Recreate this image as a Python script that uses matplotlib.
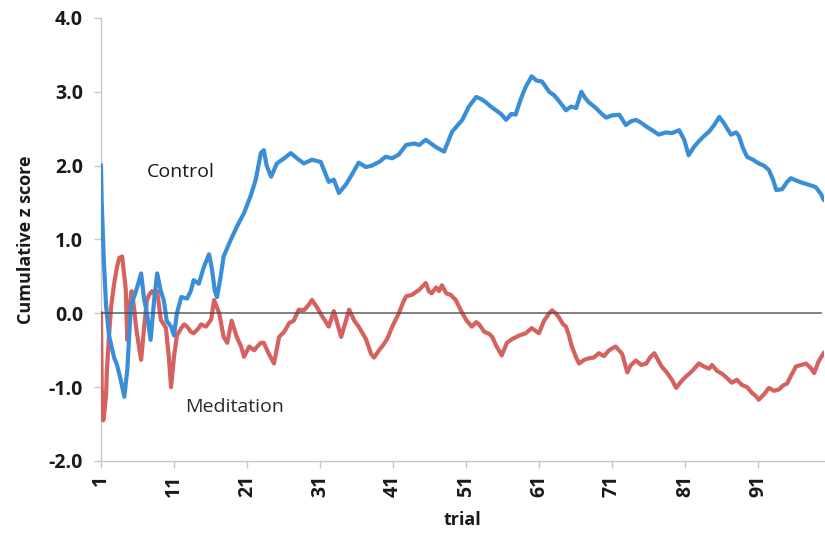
import matplotlib
matplotlib.use("Agg")
import matplotlib.pyplot as plt
from matplotlib.ticker import FormatStrFormatter

plt.rcParams['font.family'] = ['Open Sans', 'DejaVu Sans']

# Cumulative z score per trial
control_trial = [1.0, 1.1, 1.4, 1.7, 2.1, 2.8, 3.2, 3.7, 4.2, 4.6, 5.1, 5.8, 6.5, 6.9, 7.3, 7.8,
                 8.3, 8.7, 9.2, 9.6, 10.0, 10.6, 11.0, 11.4, 12.0, 12.8, 13.3, 13.7, 14.4, 15.1,
                 15.8, 16.2, 16.6, 16.9, 17.4, 17.8, 18.8, 19.6, 20.6, 21.5, 22.2, 22.9, 23.3,
                 23.7, 24.3, 25.1, 26.1, 27.0, 28.1, 28.8, 29.9, 31.1, 32.2, 32.9, 33.6, 34.6,
                 35.2, 36.3, 37.3, 38.1, 39.1, 40.0, 40.9, 41.8, 42.8, 43.9, 44.6, 45.5, 46.2,
                 46.9, 48.0, 49.1, 50.5, 51.4, 52.4, 53.1, 53.7, 54.4, 55.1, 55.8, 56.5, 57.2,
                 57.8, 58.5, 59.2, 60.0, 60.7, 61.4, 62.4, 63.1, 63.7, 64.7, 65.4, 66.1, 66.8,
                 67.3, 67.8, 68.8, 69.6, 70.2, 71.0, 72.0, 72.9, 73.6, 74.3, 75.0, 75.7, 76.5,
                 77.4, 78.4, 79.2, 80.2, 80.9, 81.5, 82.2, 82.9, 83.6, 84.3, 85.0, 85.7, 86.3,
                 87.3, 88.0, 88.4, 88.9, 89.5, 90.3, 91.1, 91.8, 92.5, 93.1, 93.5, 94.3, 95.0,
                 95.5, 96.2, 97.0, 98.0, 98.9, 99.6, 100.0]
control_z = [2.0, 1.5, 0.7, 0.1, -0.3, -0.6, -0.7, -0.9, -1.13, -0.77, 0.1, 0.3, 0.54, 0.2, 0.0,
             -0.36, 0.2, 0.54, 0.3, 0.18, -0.1, -0.18, -0.3, 0.0, 0.22, 0.2, 0.3, 0.45, 0.4, 0.63,
             0.8, 0.6, 0.3, 0.22, 0.5, 0.77, 1.0, 1.17, 1.36, 1.59, 1.81, 2.17, 2.21, 2.0, 1.85,
             2.03, 2.1, 2.17, 2.08, 2.03, 2.08, 2.05, 1.78, 1.81, 1.63, 1.75, 1.85, 2.04, 1.98,
             2.0, 2.05, 2.12, 2.1, 2.15, 2.28, 2.3, 2.28, 2.35, 2.3, 2.25, 2.19, 2.46, 2.62, 2.8,
             2.93, 2.9, 2.86, 2.8, 2.75, 2.7, 2.62, 2.7, 2.69, 2.9, 3.07, 3.21, 3.15, 3.14, 3.0,
             2.95, 2.88, 2.75, 2.8, 2.78, 3.0, 2.92, 2.86, 2.78, 2.7, 2.65, 2.68, 2.69, 2.55, 2.6,
             2.62, 2.58, 2.53, 2.48, 2.42, 2.45, 2.44, 2.48, 2.35, 2.14, 2.25, 2.33, 2.4, 2.46,
             2.55, 2.66, 2.58, 2.42, 2.45, 2.4, 2.25, 2.12, 2.08, 2.03, 2.0, 1.94, 1.8, 1.67,
             1.68, 1.78, 1.83, 1.8, 1.77, 1.74, 1.71, 1.62, 1.54]

meditation_trial = [1.0, 1.1, 1.3, 1.4, 1.7, 1.8, 2.1, 2.4, 2.8, 3.2, 3.5, 3.9, 4.2, 4.4, 4.6,
                    4.8, 5.2, 5.5, 5.8, 6.2, 6.5, 6.9, 7.3, 7.6, 8.0, 8.4, 8.7, 9.2, 9.6, 9.9,
                    10.3, 10.6, 11.0, 11.4, 12.0, 12.4, 12.8, 13.3, 13.7, 14.4, 14.7, 15.4, 16.1,
                    16.5, 17.2, 17.8, 18.3, 18.9, 19.6, 20.2, 20.6, 21.3, 22.0, 22.4, 22.9, 23.3,
                    24.0, 24.7, 25.4, 26.1, 26.8, 27.4, 28.1, 28.8, 29.5, 29.9, 30.6, 31.3, 32.2,
                    32.9, 33.9, 34.4, 35.0, 35.7, 36.3, 37.3, 38.0, 38.4, 39.1, 39.5, 40.2, 40.9,
                    41.8, 42.4, 42.8, 43.6, 44.6, 45.5, 45.9, 46.3, 46.9, 47.3, 47.7, 48.3, 48.9,
                    49.6, 50.5, 51.1, 51.8, 52.4, 52.8, 53.5, 54.2, 54.6, 55.2, 55.9, 56.6, 57.3,
                    58.3, 59.2, 60.0, 61.0, 61.7, 62.4, 62.8, 63.3, 63.7, 64.3, 64.7, 65.1, 65.5,
                    66.1, 66.5, 67.2, 67.8, 68.5, 69.2, 69.9, 70.6, 71.5, 72.4, 73.1, 73.6, 74.3,
                    75.0, 75.7, 76.2, 76.8, 77.4, 77.8, 78.5, 79.2, 79.8, 80.5, 81.1, 82.0, 82.9,
                    83.6, 84.3, 84.7, 85.4, 86.1, 86.8, 87.4, 88.1, 88.8, 89.5, 90.2, 90.7, 91.1,
                    91.8, 92.5, 93.2, 93.9, 94.4, 95.0, 95.5, 96.2, 96.9, 97.6, 98.3, 98.7, 99.3,
                    100.0]
meditation_z = [0.0, -1.0, -1.45, -1.4, -1.1, -0.8, -0.3, 0.1, 0.4, 0.63, 0.75, 0.77, 0.5, 0.32,
                -0.36, 0.0, 0.3, 0.1, -0.18, -0.45, -0.63, -0.2, 0.18, 0.25, 0.3, 0.25, 0.3,
                -0.09, -0.15, -0.2, -0.6, -1.0, -0.59, -0.3, -0.2, -0.15, -0.18, -0.25, -0.27,
                -0.2, -0.15, -0.18, -0.08, 0.18, 0.0, -0.32, -0.4, -0.1, -0.32, -0.45, -0.59,
                -0.45, -0.5, -0.45, -0.4, -0.4, -0.55, -0.68, -0.32, -0.25, -0.13, -0.1, 0.05,
                0.04, 0.12, 0.18, 0.08, -0.04, -0.18, 0.03, -0.32, -0.15, 0.05, -0.1, -0.18,
                -0.35, -0.55, -0.6, -0.5, -0.45, -0.35, -0.18, 0.0, 0.15, 0.23, 0.25, 0.32, 0.41,
                0.3, 0.27, 0.35, 0.3, 0.38, 0.27, 0.25, 0.18, 0.0, -0.1, -0.18, -0.12, -0.15,
                -0.25, -0.28, -0.32, -0.45, -0.57, -0.4, -0.35, -0.3, -0.27, -0.2, -0.27, -0.1,
                0.0, 0.04, 0.0, -0.05, -0.15, -0.18, -0.3, -0.45, -0.6, -0.68, -0.63, -0.61,
                -0.6, -0.54, -0.58, -0.5, -0.45, -0.55, -0.8, -0.7, -0.64, -0.7, -0.68, -0.6,
                -0.54, -0.65, -0.72, -0.8, -0.9, -1.01, -0.92, -0.86, -0.78, -0.68, -0.72, -0.75,
                -0.7, -0.78, -0.82, -0.88, -0.94, -0.9, -0.97, -1.0, -1.08, -1.12, -1.17, -1.1,
                -1.01, -1.05, -1.03, -0.98, -0.95, -0.85, -0.72, -0.7, -0.68, -0.75, -0.81,
                -0.65, -0.54]

baseline_trial = [1, 99.6]
baseline_z = [0.0, 0.0]

x_ticks = [1, 11, 21, 31, 41, 51, 61, 71, 81, 91]
y_ticks = [-2.0, -1.0, 0.0, 1.0, 2.0, 3.0, 4.0]

fig = plt.figure(figsize=(8.25, 5.44), dpi=100)
ax = fig.add_axes([0.1224, 0.1526, 0.876, 0.8144])

blue = '#3a8ed7'
red = '#d5625e'

ax.plot(meditation_trial, meditation_z, color=red, lw=3.0, solid_joinstyle='round', zorder=3)
ax.plot(control_trial, control_z, color=blue, lw=3.0, solid_joinstyle='round', zorder=3)
ax.plot(baseline_trial, baseline_z, color='#4a4a4a', lw=1.3, alpha=0.75, zorder=4)

ax.set_xlim(1, 100)
ax.set_ylim(-2.0, 4.0)
ax.set_xticks(x_ticks)
ax.set_yticks(y_ticks)
ax.yaxis.set_major_formatter(FormatStrFormatter('%.1f'))

for side in ('top', 'right'):
    ax.spines[side].set_visible(False)
for side in ('left', 'bottom'):
    ax.spines[side].set_color('#c8c8c8')
    ax.spines[side].set_linewidth(1.0)

ax.tick_params(axis='both', direction='out', length=5, color='#c8c8c8', width=1.0)
ax.tick_params(axis='y', pad=8, labelsize=14)
ax.tick_params(axis='x', pad=5, labelsize=14, labelrotation=90)
for lab in ax.get_xticklabels() + ax.get_yticklabels():
    lab.set_fontweight('bold')
    lab.set_color('#1a1a1a')

ax.set_ylabel('Cumulative z score', fontsize=13, fontweight='bold', color='#1a1a1a', labelpad=10)
ax.set_xlabel('trial', fontsize=13, fontweight='bold', color='#1a1a1a', labelpad=10)

ax.text(7.3, 1.91, 'Control', fontsize=14, color='#1a1a1a', va='center', ha='left')
ax.text(12.5, -1.27, 'Meditation', fontsize=14, color='#2a2a2a', va='center', ha='left')

fig.savefig('out.png', dpi=100)
